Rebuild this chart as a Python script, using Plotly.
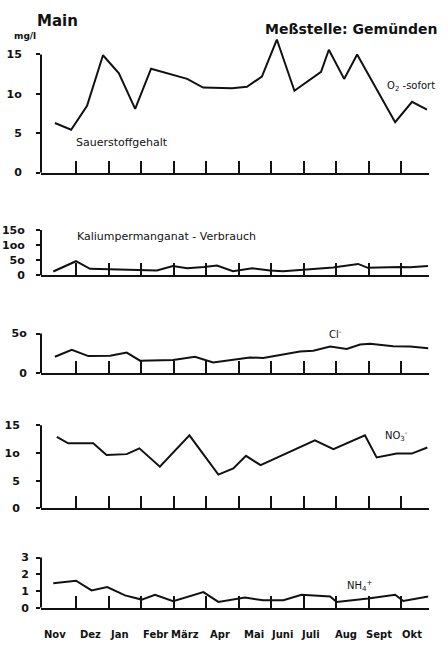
import plotly.graph_objects as go

# ---- data (x = months since start of November, hydrological year) ----
months = ["Nov", "Dez", "Jan", "Febr", "März", "Apr", "Mai", "Juni", "Juli", "Aug", "Sept", "Okt"]
month_label_pos = [0.35, 1.46, 2.35, 3.46, 4.35, 5.43, 6.48, 7.34, 8.23, 9.31, 10.32, 11.34]
month_bounds = [1, 2, 3, 4, 5, 6, 7, 8, 9, 10, 11, 11.84]

o2_x = [0.35, 0.85, 1.34, 1.83, 2.32, 2.82, 3.31, 4.42, 4.91, 5.80, 6.26, 6.72, 7.18, 7.72,
        8.54, 8.78, 9.25, 9.65, 10.82, 11.34, 11.80]
o2_y = [6.3, 5.45, 8.5, 14.9, 12.6, 8.1, 13.2, 11.9, 10.8, 10.7, 10.9, 12.2, 16.9, 10.4,
        12.8, 15.6, 11.9, 15.0, 6.4, 9.0, 8.0]

kmno4_x = [0.30, 1.00, 1.43, 1.95, 2.97, 3.49, 3.98, 4.42, 4.94, 5.34, 5.83, 6.42, 6.97, 7.37,
           7.89, 8.91, 9.68, 9.98, 10.97, 11.28, 11.83]
kmno4_y = [13, 47, 22, 20, 16, 16, 31, 24, 28, 33, 14, 24, 16, 14, 18, 26, 38, 25, 28, 27, 31]

cl_x = [0.35, 0.87, 1.38, 2.05, 2.56, 2.97, 3.99, 4.66, 5.22, 6.05, 6.35, 6.76, 7.89, 8.30,
        8.82, 9.33, 9.74, 10.05, 10.76, 11.28, 11.84]
cl_y = [20.7, 29.4, 21.5, 22.0, 26.0, 15.8, 16.5, 20.7, 13.6, 18.6, 19.9, 19.0, 27.3, 28.2,
        33.5, 30.6, 36.0, 37.2, 33.9, 33.5, 31.4]

no3_x = [0.41, 0.76, 1.53, 1.94, 2.56, 2.95, 3.58, 4.49, 5.38, 5.84, 6.23, 6.68, 8.35, 8.92,
         9.89, 10.25, 10.87, 11.33, 11.81]
no3_y = [12.9, 11.75, 11.75, 9.66, 9.8, 10.85, 7.53, 13.2, 6.1, 7.2, 9.5, 7.8, 12.3, 10.7,
         13.2, 9.2, 9.9, 9.9, 11.0]

nh4_x = [0.30, 1.00, 1.48, 1.96, 2.51, 3.02, 3.43, 3.99, 4.92, 5.38, 6.20, 6.76, 7.38, 7.94,
         8.82, 9.02, 9.99, 10.82, 11.07, 11.84]
nh4_y = [1.47, 1.62, 1.04, 1.24, 0.74, 0.49, 0.78, 0.39, 0.94, 0.35, 0.61, 0.45, 0.45, 0.78,
         0.68, 0.35, 0.55, 0.78, 0.41, 0.68]

# ---- layout geometry (pixels of a 448 x 646 page) ----
W, H = 448, 646
X0_PX, MONTH_PX = 43.5, 32.5          # pixel of month 0 and width of one month
AXIS_LEFT_PX, AXIS_RIGHT_PX = 41, 428.6
MONTH_LABEL_TOP_PX = 634
INK = "#111111"
FONT = "DejaVu Sans"

x_min = (AXIS_LEFT_PX - X0_PX) / MONTH_PX
x_max = (AXIS_RIGHT_PX - X0_PX) / MONTH_PX
x_domain = [AXIS_LEFT_PX / W, AXIS_RIGHT_PX / W]

panels = [
    dict(x=o2_x, y=o2_y, zero_px=172.3, px_per_unit=8.0, top=17.5,
         tickvals=[0, 5, 10, 15], ticktext=["0", "5", "1o", "15"], standoff=12,
         label="Sauerstoffgehalt", label_xy=(0.94, 3.8),
         tag="O<sub>2</sub> -sofort", tag_xy=(10.52, 11.0)),
    dict(x=kmno4_x, y=kmno4_y, zero_px=276.7, px_per_unit=0.3067, top=160,
         tickvals=[0, 50, 100, 150], ticktext=["0", "5o", "1oo", "15o"], standoff=9,
         label="Kaliumpermanganat - Verbrauch", label_xy=(0.97, 128),
         tag=None, tag_xy=None),
    dict(x=cl_x, y=cl_y, zero_px=376.0, px_per_unit=0.806, top=60,
         tickvals=[0, 50], ticktext=["0", "5o"], standoff=7,
         label="Chlorid", label_xy=(0.97, 67),
         tag="Cl<sup>-</sup>", tag_xy=(8.72, 50)),
    dict(x=no3_x, y=no3_y, zero_px=513.3, px_per_unit=5.62, top=16,
         tickvals=[0, 5, 10, 15], ticktext=["0", "5", "1o", "15"], standoff=14,
         label="Nitrat", label_xy=(1.0, 17.3),
         tag="NO<sub>3</sub><sup>-</sup>", tag_xy=(10.45, 13.0)),
    dict(x=nh4_x, y=nh4_y, zero_px=614.3, px_per_unit=17.0, top=3.2,
         tickvals=[0, 1, 2, 3], ticktext=["0", "1", "2", "3"], standoff=5,
         label="Ammonium", label_xy=(1.03, 3.84),
         tag="NH<sub>4</sub><sup>+</sup>", tag_xy=(9.28, 1.3)),
]

fig = go.Figure()
layout = dict(
    width=W, height=H, margin=dict(l=0, r=0, t=0, b=0),
    paper_bgcolor="white", plot_bgcolor="white", showlegend=False,
    font=dict(family=FONT, color=INK),
)
annotations = []
shapes = []

for i, p in enumerate(panels, start=1):
    sfx = "" if i == 1 else str(i)
    xa, ya = "x" + sfx, "y" + sfx
    fig.add_trace(go.Scatter(x=p["x"], y=p["y"], xaxis=xa, yaxis=ya, mode="lines",
                             line=dict(color=INK, width=2), hoverinfo="skip"))
    top_px = p["zero_px"] - p["top"] * p["px_per_unit"]
    y_domain = [1 - p["zero_px"] / H, 1 - top_px / H]
    # month boundaries as upward ticks on every time axis
    layout["xaxis" + sfx] = dict(
        domain=x_domain, range=[x_min, x_max], anchor=ya,
        showline=True, linecolor=INK, linewidth=2, showgrid=False, zeroline=False,
        tickmode="array", tickvals=month_bounds, ticks="inside",
        ticklen=12, tickwidth=1.6, tickcolor=INK, showticklabels=False,
    )
    layout["yaxis" + sfx] = dict(
        domain=y_domain, range=[0, p["top"]], anchor=xa,
        showline=False, showgrid=False, zeroline=False,
        tickmode="array", tickvals=p["tickvals"], ticktext=p["ticktext"],
        ticks="outside", ticklen=4, tickwidth=1.6, tickcolor=INK,
        ticklabelstandoff=p["standoff"],
        tickfont=dict(family=FONT, size=11, color=INK, weight="bold"),
    )
    # vertical axis line ends at the highest labelled value
    shapes.append(dict(type="line", xref=xa + " domain", yref=ya,
                       x0=0, x1=0, y0=0, y1=max(p["tickvals"]),
                       line=dict(color=INK, width=2)))
    lx, ly = p["label_xy"]
    annotations.append(dict(x=lx, y=ly, xref=xa, yref=ya, text=p["label"],
                            showarrow=False, xanchor="left", yanchor="middle",
                            font=dict(family=FONT, size=11, color=INK)))
    if p["tag"]:
        tx, ty = p["tag_xy"]
        annotations.append(dict(x=tx, y=ty, xref=xa, yref=ya, text=p["tag"],
                                showarrow=False, xanchor="left", yanchor="middle",
                                font=dict(family=FONT, size=10, color=INK)))

# month names beneath the bottom panel, centred in each month
bottom_x = "x" + str(len(panels))
for name, pos in zip(months, month_label_pos):
    annotations.append(dict(x=pos, y=1 - MONTH_LABEL_TOP_PX / H, xref=bottom_x, yref="paper",
                            text=name, showarrow=False, xanchor="center", yanchor="top",
                            font=dict(family=FONT, size=10, color=INK, weight="bold")))

# page headings
annotations += [
    dict(x=35 / W, y=1 - 18 / H, xref="paper", yref="paper", text="Main",
         showarrow=False, xanchor="left", yanchor="middle",
         font=dict(family=FONT, size=15, color=INK, weight="bold")),
    dict(x=12 / W, y=1 - 34 / H, xref="paper", yref="paper", text="mg/l",
         showarrow=False, xanchor="left", yanchor="middle",
         font=dict(family=FONT, size=9, color=INK, weight="bold")),
    dict(x=263 / W, y=1 - 26 / H, xref="paper", yref="paper", text="Meßstelle: Gemünden",
         showarrow=False, xanchor="left", yanchor="middle",
         font=dict(family=FONT, size=14, color=INK, weight="bold")),
]

layout["annotations"] = annotations
layout["shapes"] = shapes
fig.update_layout(**layout)
fig.write_html("out.html")
